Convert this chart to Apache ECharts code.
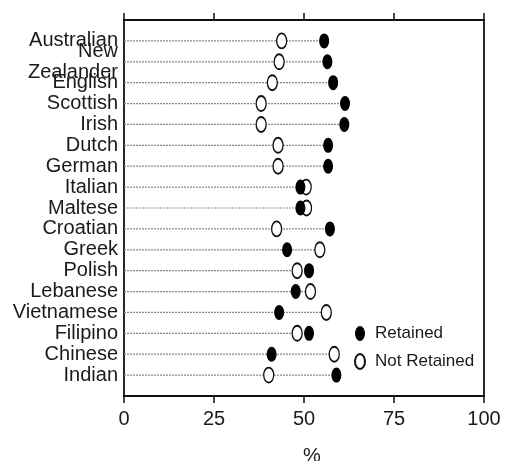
<!DOCTYPE html>
<html lang="en">
<head>
  <meta charset="UTF-8">
  <title>Retained vs Not Retained</title>
  <script src="https://cdn.jsdelivr.net/npm/echarts@6/dist/echarts.min.js"></script>
  <style>
    html, body { margin: 0; padding: 0; background: #fff; }
  </style>
</head>
<body>
<div id="main" style="width:514px;height:461px;"></div>
<script>
  // categories top to bottom
  var categories = ['Australian', 'New\nZealander', 'English', 'Scottish', 'Irish', 'Dutch', 'German',
    'Italian', 'Maltese', 'Croatian', 'Greek', 'Polish', 'Lebanese', 'Vietnamese', 'Filipino',
    'Chinese', 'Indian'];
  // percent
  var retained    = [55.6, 56.5, 58.1, 61.4, 61.2, 56.7, 56.7, 49.0, 49.0, 57.2, 45.3, 51.4, 47.7, 43.1, 51.4, 41.0, 59.0];
  var notRetained = [43.8, 43.1, 41.2, 38.1, 38.1, 42.8, 42.8, 50.6, 50.7, 42.4, 54.4, 48.1, 51.8, 56.2, 48.1, 58.4, 40.2];
  var xTicks = [0, 25, 50, 75, 100];

  var ellipse = 'path://M5,0 A5,7.5 0 1 1 5,15 A5,7.5 0 1 1 5,0 Z';
  var font = '"Liberation Sans", Arial, sans-serif';

  function pts(arr) {
    return arr.map(function (v, i) { return [v, i + 1]; });
  }
  var guide = categories.map(function (c, i) {
    return [Math.max(retained[i], notRetained[i]), i + 1];
  });

  var myChart = echarts.init(document.getElementById('main'));

  var axisLine = { show: true, onZero: false, lineStyle: { color: '#111', width: 1.8 } };
  var tick = { show: true, inside: false, length: 7, lineStyle: { color: '#111', width: 1.5 } };

  var option = {
    animation: false,
    textStyle: { fontFamily: font },
    grid: { left: 124, right: 30, top: 20, bottom: 65, outerBoundsMode: 'none' },
    legend: {
      orient: 'vertical',
      left: 349,
      top: 320,
      itemWidth: 10,
      itemHeight: 15,
      itemGap: 11,
      textStyle: { fontSize: 17, color: '#1a1a1a', padding: [0, 0, 0, 5] },
      data: [
        { name: 'Retained', icon: ellipse },
        { name: 'Not Retained', icon: ellipse }
      ]
    },
    xAxis: [
      {
        type: 'value',
        position: 'bottom',
        min: xTicks[0],
        max: xTicks[xTicks.length - 1],
        interval: 25,
        name: '%',
        nameLocation: 'middle',
        nameGap: 50,
        nameTextStyle: { fontSize: 20, color: '#1a1a1a', padding: [0, 0, 0, 16] },
        axisLine: axisLine,
        axisTick: tick,
        axisLabel: { fontSize: 20, color: '#1a1a1a', margin: 13 },
        splitLine: { show: false }
      },
      {
        type: 'value',
        position: 'top',
        min: xTicks[0],
        max: xTicks[xTicks.length - 1],
        interval: 25,
        axisLine: axisLine,
        axisTick: tick,
        axisLabel: { show: false },
        splitLine: { show: false }
      }
    ],
    yAxis: [
      {
        type: 'value',
        position: 'left',
        min: 0,
        max: categories.length + 1,
        interval: 1,
        inverse: true,
        axisLine: axisLine,
        axisTick: { show: false },
        axisLabel: {
          fontSize: 20,
          color: '#1a1a1a',
          margin: 6,
          lineHeight: 21,
          formatter: function (v) { return categories[v - 1] || ''; }
        },
        splitLine: { show: false }
      },
      {
        type: 'value',
        position: 'right',
        min: 0,
        max: categories.length + 1,
        interval: 1,
        inverse: true,
        axisLine: axisLine,
        axisTick: { show: false },
        axisLabel: { show: false },
        splitLine: { show: false }
      }
    ],
    series: [
      {
        // dotted guide from axis to the rightmost dot
        type: 'custom',
        silent: true,
        z: 1,
        data: guide,
        renderItem: function (params, api) {
          var a = api.coord([0, api.value(1)]);
          var b = api.coord([api.value(0), api.value(1)]);
          return {
            type: 'line',
            shape: { x1: a[0], y1: a[1], x2: b[0], y2: b[1] },
            style: { stroke: '#8a8a8a', lineWidth: 1.2, lineDash: [2, 1] }
          };
        }
      },
      {
        name: 'Not Retained',
        type: 'scatter',
        z: 3,
        symbol: ellipse,
        symbolSize: [10, 15],
        itemStyle: { color: '#fff', borderColor: '#111', borderWidth: 1.6, opacity: 1 },
        data: pts(notRetained)
      },
      {
        name: 'Retained',
        type: 'scatter',
        z: 4,
        symbol: ellipse,
        symbolSize: [10, 15],
        itemStyle: { color: '#000', opacity: 1 },
        data: pts(retained)
      }
    ]
  };

  myChart.setOption(option);
</script>
</body>
</html>
